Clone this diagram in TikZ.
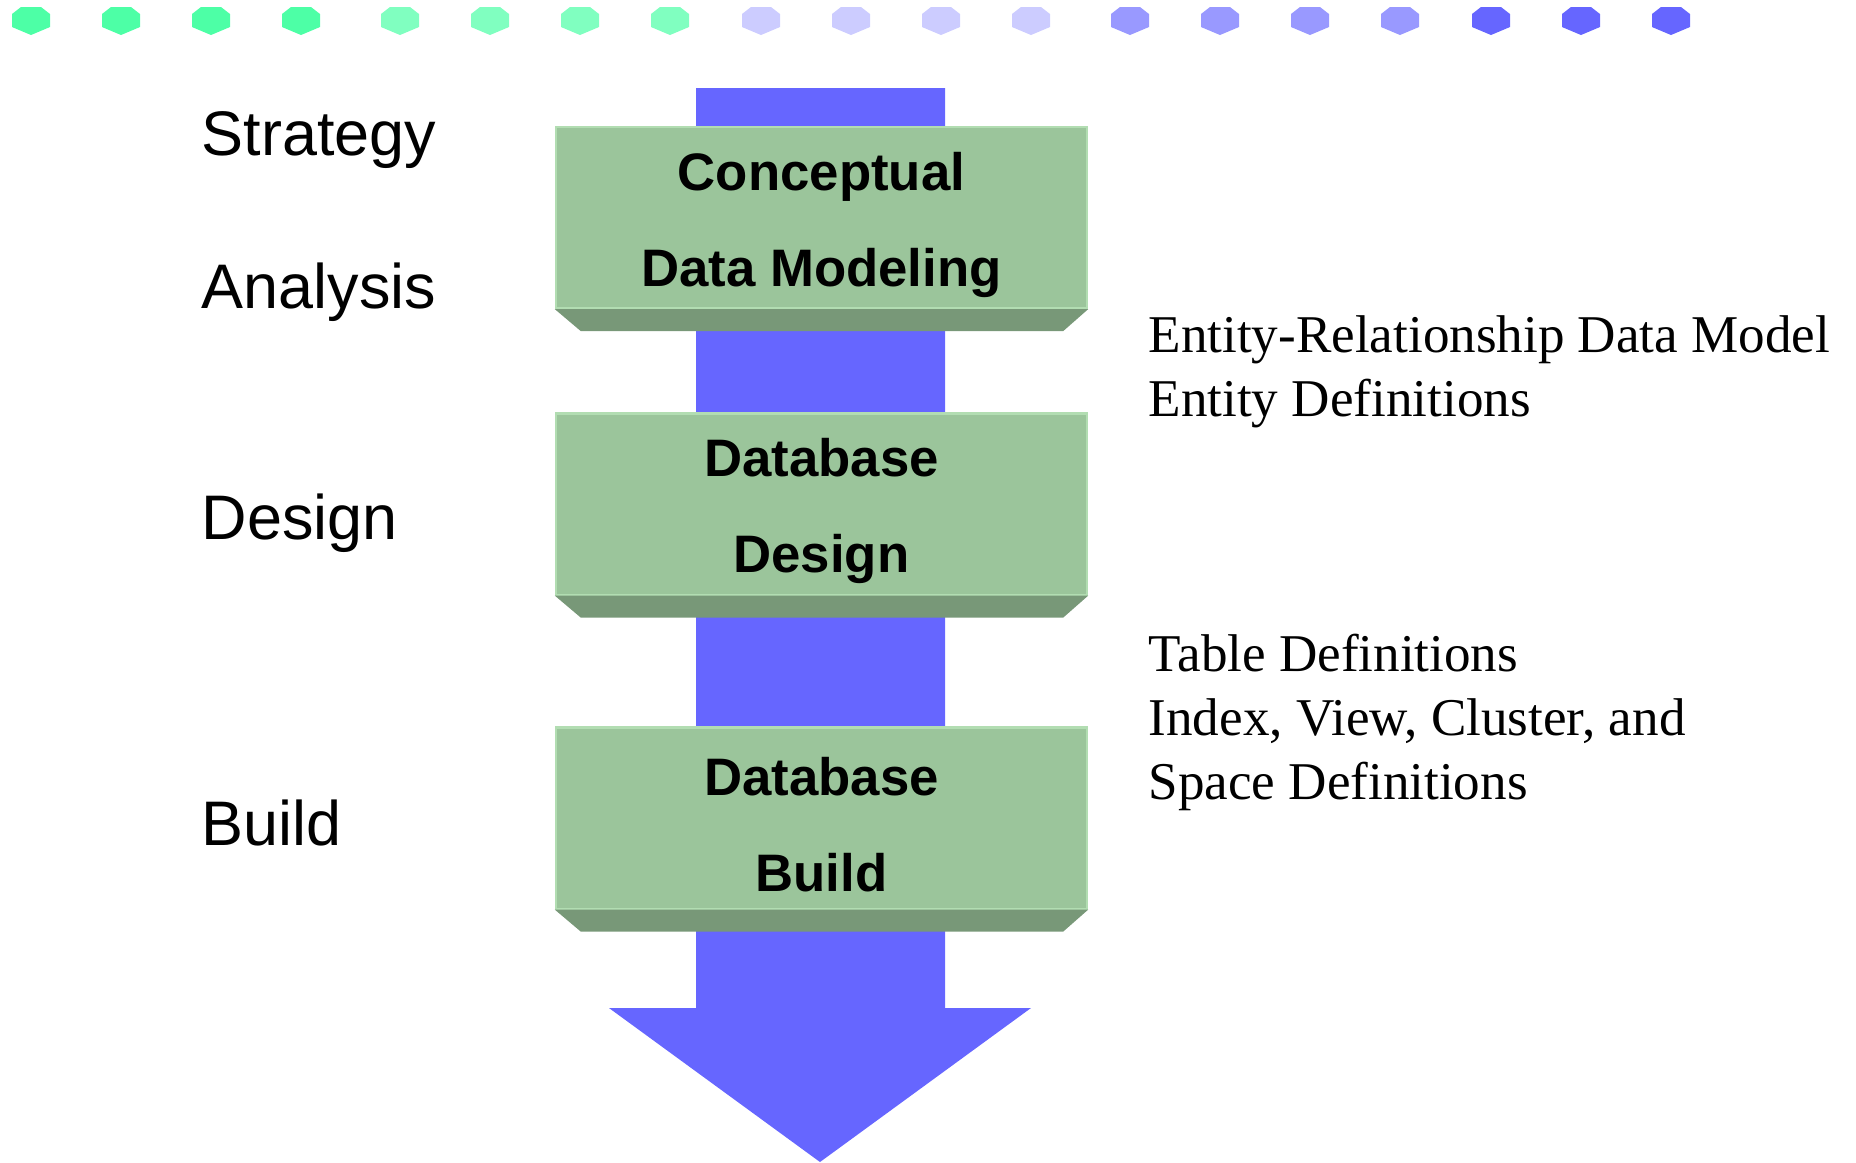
\documentclass[tikz,border=0pt]{standalone}
\usepackage{fontspec}
\setmainfont{Liberation Serif}
\setsansfont{Liberation Sans}
\usetikzlibrary{positioning}

\definecolor{dotA}{HTML}{4DFFA6}
\definecolor{dotB}{HTML}{80FFC0}
\definecolor{dotC}{HTML}{CCCCFF}
\definecolor{dotD}{HTML}{9999FF}
\definecolor{flowblue}{HTML}{6666FF}
\definecolor{boxface}{HTML}{9BC59B}
\definecolor{boxedge}{HTML}{B2DDB2}
\definecolor{boxbevel}{HTML}{789878}

\tikzset{
  face/.style={fill=boxface,draw=boxedge,line width=.6pt,minimum width=5.31cm,minimum height=1.81cm,inner sep=0pt},
  facetext/.style={inner sep=0pt,align=center,font=\fontsize{15}{27.3}\selectfont\sffamily\bfseries},
  bevel/.style={fill=boxbevel},
  phase/.style={anchor=base west,inner sep=0pt,font=\fontsize{17.9}{21}\selectfont\sffamily},
  output/.style={anchor=base west,inner sep=0pt,align=left,font=\fontsize{15.1}{18.2}\selectfont\rmfamily}
}

\begin{document}
\begin{tikzpicture}[x=0.01cm,y=-0.01cm]
\useasboundingbox (0,0) rectangle (1856,1162);
% dotted band along the top
\foreach \x/\c in {31/dotA,121/dotA,211/dotA,301/dotA,400/dotB,490/dotB,580/dotB,670/dotB,
  761/dotC,851/dotC,941/dotC,1031/dotC,1130/dotD,1220/dotD,1310/dotD,1400/dotD,1491/flowblue,1581/flowblue,1671/flowblue}
  \fill[\c,shift={(\x,20)}] (-10,-13)--(10,-13)--(19,-6)--(19,7)--(0,15)--(-19,7)--(-19,-6)--cycle;
% big arrow
\coordinate (tl) at (696,88);
\coordinate (tr) at (945,88);
\coordinate (tip) at (820,1162);
\fill[flowblue] (tl)--(tr)--(945,1008)--(1031,1008)--(tip)--(609,1008)--(696,1008)--cycle;
% stages
\node[face] (cdm) at (821.5,217.5) {};
\node[face] (dbd) at (821.5,504) {};
\node[face] (dbb) at (821.5,818) {};
\foreach \n in {cdm,dbd,dbb}
  \fill[bevel] (\n.south west)--(\n.south east)--([shift={(-25,22)}]\n.south east)--([shift={(26,22)}]\n.south west)--cycle;
\node[facetext] (cdm-t) at ([shift={(0,7)}]cdm.center) {Conceptual\\Data Modeling};
\node[facetext] (dbd-t) at ([shift={(0,7)}]dbd.center) {Database\\Design};
\node[facetext] (dbb-t) at ([shift={(0,7)}]dbb.center) {Database\\Build};
% phases
\node[phase] (strat) at (201,155) {Strategy};
\node[phase] (anal) at (201,308) {Analysis};
\node[phase] (des) at (201,539) {Design};
\node[phase] (bld) at (201,845) {Build};
% deliverables (base = last line)
\node[output] (erd) at (1148,416) {Entity-Relationship Data Model\\Entity Definitions};
\node[output] (tbl) at (1148,799) {Table Definitions\\Index, View, Cluster, and\\Space Definitions};
\end{tikzpicture}
\end{document}
